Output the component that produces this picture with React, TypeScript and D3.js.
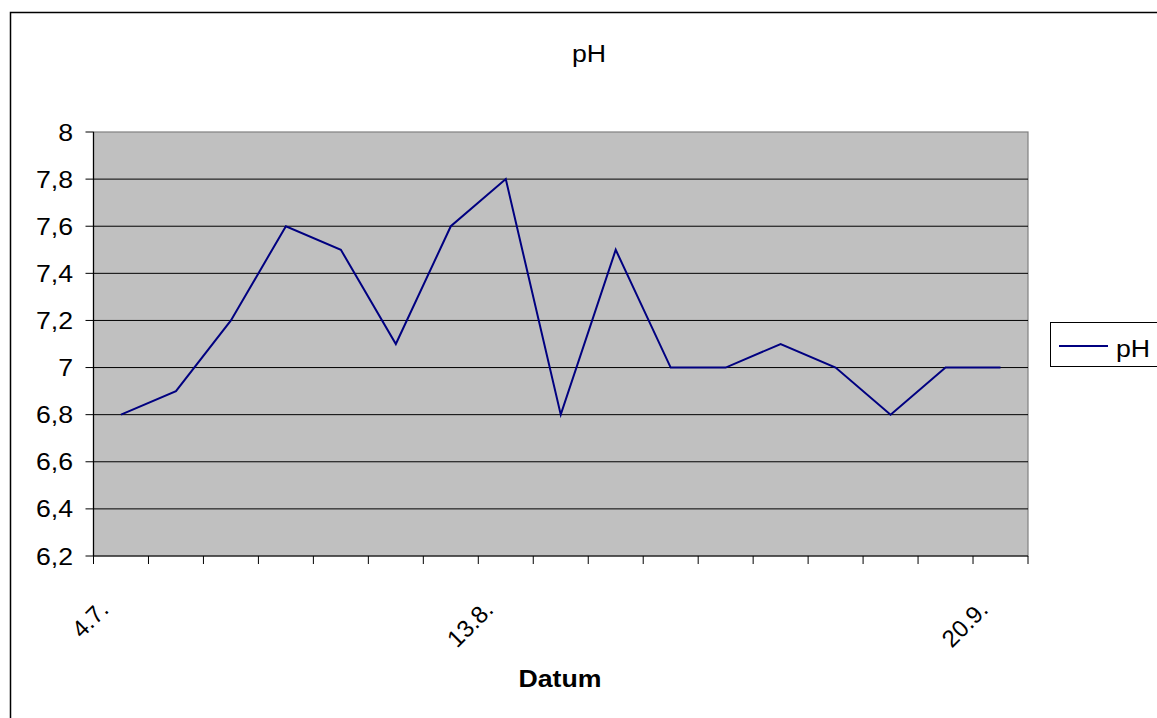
import React from "react";
import * as d3 from "d3";

// pH readings, one per sampling date
const phValues = [6.8, 6.9, 7.2, 7.6, 7.5, 7.1, 7.6, 7.8, 6.8, 7.5, 7.0, 7.0, 7.1, 7.0, 6.8, 7.0, 7.0];
// Date labels shown on the category axis and the category they sit under
const dateLabels = ["4.7.", "13.8.", "20.9."];
const dateLabelIndex = [0, 7, 16];
const yTicks = [6.2, 6.4, 6.6, 6.8, 7.0, 7.2, 7.4, 7.6, 7.8, 8.0];

const W = 1157;
const H = 718;
const plot = { left: 93.5, right: 1028, top: 132, bottom: 556 };
const FONT = "'Liberation Sans', Arial, sans-serif";
const SX = 1.16;

function SText(props: {
  x: number;
  y: number;
  anchor?: "start" | "middle" | "end";
  size?: number;
  weight?: string | number;
  children: React.ReactNode;
}) {
  const { x, y, anchor = "start", size = 23, weight = "normal", children } = props;
  return (
    <g transform={`translate(${x},${y}) scale(${SX},1)`}>
      <text textAnchor={anchor} fontFamily={FONT} fontSize={size} fontWeight={weight} fill="#000">
        {children}
      </text>
    </g>
  );
}

export default function App() {
  const n = phValues.length;
  const x = d3.scaleBand<number>().domain(d3.range(n)).range([plot.left, plot.right]);
  const y = d3.scaleLinear().domain([6.2, 8]).range([plot.bottom, plot.top]);
  const cx = (i: number) => (x(i) as number) + x.bandwidth() / 2;

  const line = d3
    .line<number>()
    .x((_, i) => cx(i))
    .y((d) => y(d));

  const fmt = (v: number) => d3.format("~g")(+v.toFixed(1)).replace(".", ",");
  const boundaries = d3.range(n + 1).map((i) => (i < n ? (x(i) as number) : plot.right));

  return (
    <div style={{ position: "absolute", left: 0, top: 0 }}>
      <svg width={W} height={H} style={{ display: "block" }}>
        <rect width={W} height={H} fill="#fff" />
        {/* chart area frame */}
        <rect x={10.5} y={12.5} width={W + 20} height={H + 20} fill="none" stroke="#000" strokeWidth={1.5} />

        {/* plot area */}
        <rect
          x={plot.left}
          y={plot.top}
          width={plot.right - plot.left}
          height={plot.bottom - plot.top}
          fill="#c0c0c0"
          stroke="#808080"
          strokeWidth={1.2}
        />
        {yTicks.slice(1, -1).map((t) => (
          <line key={t} x1={plot.left} x2={plot.right} y1={y(t)} y2={y(t)} stroke="#000" strokeWidth={1} />
        ))}

        {/* value axis */}
        <line x1={plot.left} x2={plot.left} y1={plot.top} y2={plot.bottom} stroke="#000" strokeWidth={1.2} />
        {yTicks.map((t) => (
          <g key={t}>
            <line x1={plot.left - 8} x2={plot.left} y1={y(t)} y2={y(t)} stroke="#000" strokeWidth={1} />
            <SText x={73} y={y(t) + 8.5} anchor="end">
              {fmt(t)}
            </SText>
          </g>
        ))}

        {/* category axis */}
        <line x1={plot.left} x2={plot.right} y1={plot.bottom} y2={plot.bottom} stroke="#000" strokeWidth={1.2} />
        {boundaries.map((bx, i) => (
          <line key={i} x1={bx} x2={bx} y1={plot.bottom} y2={plot.bottom + 8} stroke="#000" strokeWidth={1} />
        ))}
        {dateLabels.map((lab, k) => {
          const px = cx(dateLabelIndex[k]) - 11;
          const py = 611;
          return (
            <text
              key={lab}
              transform={`translate(${px},${py}) rotate(-45)`}
              textAnchor="end"
              fontFamily={FONT}
              fontSize={24}
              fill="#000"
            >
              {lab}
            </text>
          );
        })}

        {/* series */}
        <path d={line(phValues) || ""} fill="none" stroke="#000080" strokeWidth={2} strokeLinejoin="miter" />

        {/* titles */}
        <SText x={589} y={62} anchor="middle">
          pH
        </SText>
        <SText x={560} y={687} anchor="middle" weight="bold">
          Datum
        </SText>

        {/* legend */}
        <rect x={1050.5} y={322.5} width={140} height={44} fill="#fff" stroke="#000" strokeWidth={1} />
        <line x1={1059} x2={1108} y1={346} y2={346} stroke="#000080" strokeWidth={2} />
        <SText x={1116} y={357}>pH</SText>
      </svg>
    </div>
  );
}
